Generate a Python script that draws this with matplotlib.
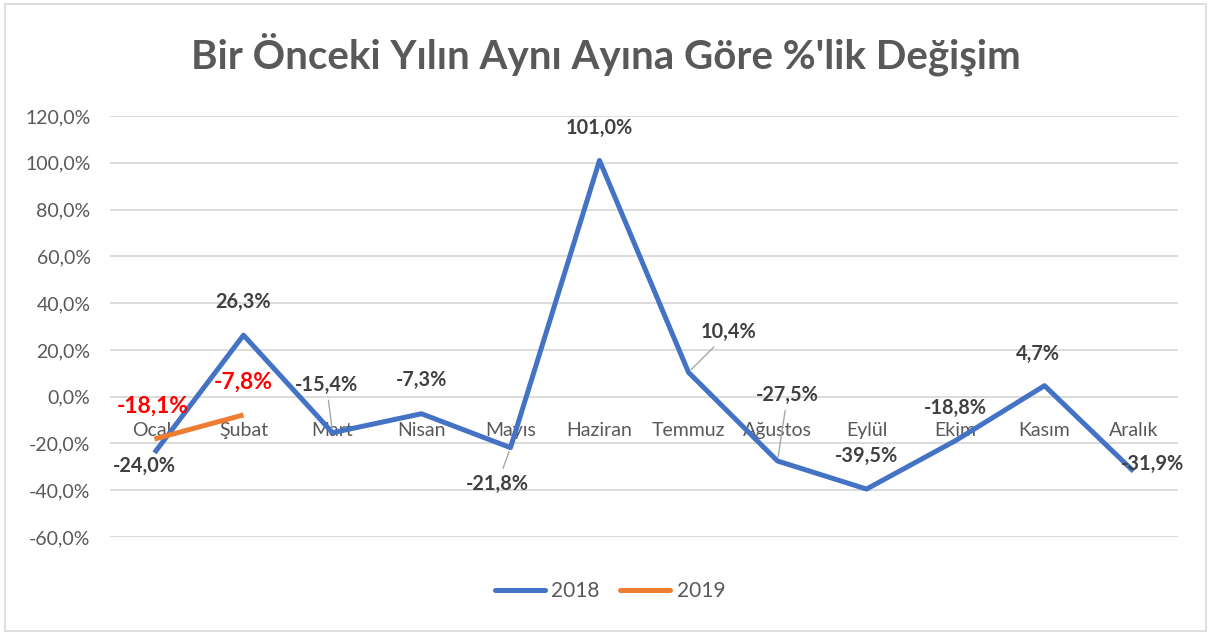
import matplotlib
matplotlib.use("Agg")
import matplotlib.pyplot as plt
from matplotlib.patches import Rectangle
from matplotlib.ticker import FuncFormatter

months = ["Ocak", "Şubat", "Mart", "Nisan", "Mayıs", "Haziran", "Temmuz",
          "Ağustos", "Eylül", "Ekim", "Kasım", "Aralık"]
y2018 = [-24.0, 26.3, -15.4, -7.3, -21.8, 101.0, 10.4, -27.5, -39.5, -18.8, 4.7, -31.9]
y2019 = [-18.1, -7.8]
title = "Bir Önceki Yılın Aynı Ayına Göre %'lik Değişim"

# label offsets in pixels (style only)
off2018 = [(-10, -13), (0, 33), (-6, 48), (0, 34), (-13, -36), (0, 32),
           (40, 40), (10, 66), (0, 33), (0, 33), (-7, 32), (19, 7)]
leader2018 = [False, False, True, False, True, False, True, True, False, False, False, False]
off2019 = [(-2, 33), (0, 33)]

FONT = ["Lato", "DejaVu Sans"]
plt.rcParams["font.family"] = FONT
GREY = "#595959"
DARK = "#404040"
BLUE = "#4472C4"
ORANGE = "#ED7D31"

fig = plt.figure(figsize=(12.11, 6.35), dpi=100)
fig.patches.append(Rectangle((0.004, 0.006), 0.992, 0.988, transform=fig.transFigure,
                             fill=False, edgecolor="#d9d9d9", lw=1.2))
ax = fig.add_axes([110 / 1211, 1 - 537 / 635, (1178 - 110) / 1211, (537 - 116) / 635])

x = list(range(len(months)))
ax.set_xlim(-0.5, len(months) - 0.5)
ax.set_ylim(-60, 120)
ax.set_yticks(range(-60, 121, 20))
ax.yaxis.set_major_formatter(FuncFormatter(lambda v, p: f"{v:.1f}%".replace(".", ",")))
ax.grid(axis="y", color="#d9d9d9", lw=1.3)
ax.set_axisbelow(True)
for s in ax.spines.values():
    s.set_visible(False)
ax.spines["bottom"].set_position(("data", 0))
ax.set_xticks(x)
ax.set_xticklabels(months)
ax.tick_params(axis="x", length=0, pad=18.5, labelsize=14, labelcolor=GREY)
ax.tick_params(axis="y", length=0, pad=14, labelsize=14, labelcolor=GREY)

l1, = ax.plot(x, y2018, color=BLUE, lw=3.6, solid_capstyle="butt", zorder=3, label="2018")
l2, = ax.plot(x[:len(y2019)], y2019, color=ORANGE, lw=3.6, solid_capstyle="butt", zorder=4, label="2019")

for xi, v, off, ld in zip(x, y2018, off2018, leader2018):
    ap = dict(arrowstyle="-", color="#a6a6a6", lw=1, shrinkA=2, shrinkB=3) if ld else None
    ax.annotate(f"{v:.1f}%".replace(".", ","), (xi, v), xytext=off, textcoords="offset pixels",
                ha="center", va="center", fontsize=14.3, fontweight="bold", color=DARK,
                arrowprops=ap, zorder=5)
for xi, v, off in zip(x, y2019, off2019):
    ax.annotate(f"{v:.1f}%".replace(".", ","), (xi, v), xytext=off, textcoords="offset pixels",
                ha="center", va="center", fontsize=16.5, fontweight="bold", color="#FF0000", zorder=6)

fig.text(0.5, 1 - 54 / 635, title, ha="center", va="center", fontsize=29,
         fontweight="bold", color=GREY)

leg = fig.legend(handles=[l1, l2], loc="center", bbox_to_anchor=(610 / 1211, 1 - 591 / 635),
                 ncol=2, frameon=False, fontsize=15, handlelength=2.4, columnspacing=1.0,
                 handletextpad=0.3)
for t in leg.get_texts():
    t.set_color(GREY)
for h in leg.get_lines():
    h.set_solid_capstyle("round")

fig.savefig("out.png", dpi=100)
